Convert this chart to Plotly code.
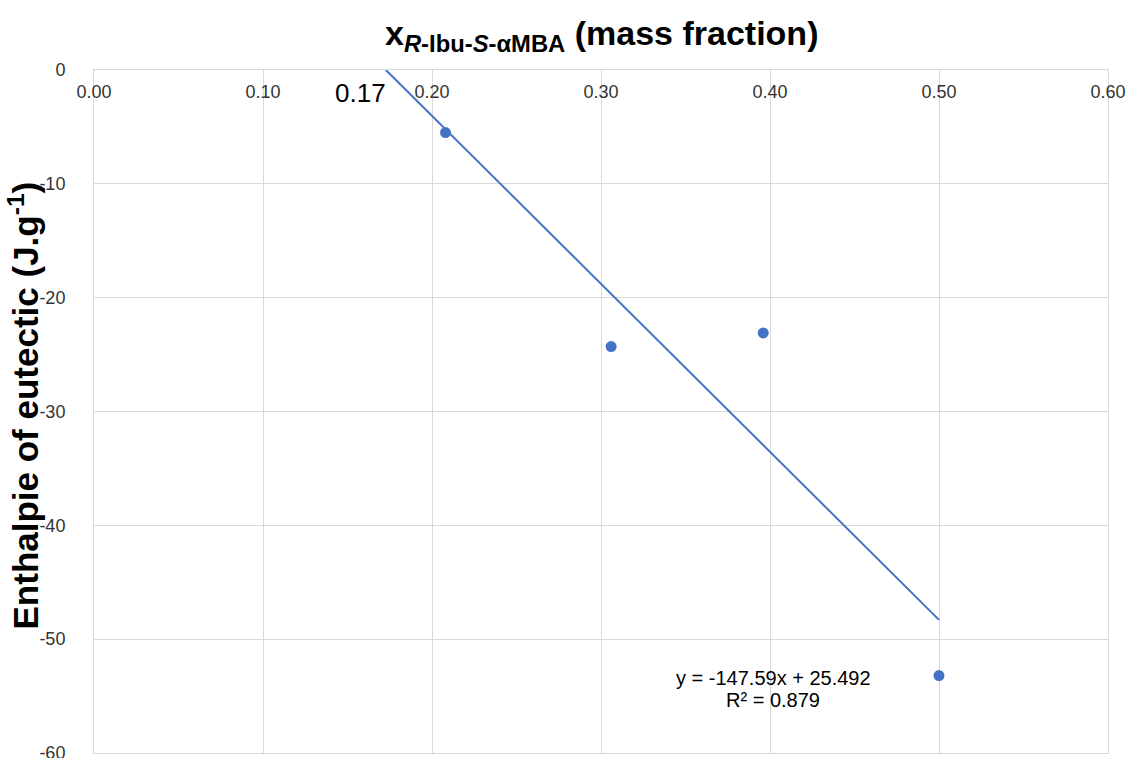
import plotly.graph_objects as go

# Eutectic enthalpy vs. mass fraction of the R-Ibu-S-αMBA salt
mass_fraction = [0.208, 0.306, 0.396, 0.500]
enthalpy = [-5.5, -24.3, -23.1, -53.2]

# Linear trend (as reported): y = slope * x + intercept
slope = -147.59
intercept = 25.492
r_squared = 0.879
x_intercept = -intercept / slope  # ≈ 0.17

trend_x = [x_intercept, max(mass_fraction)]
trend_y = [slope * v + intercept for v in trend_x]

x_ticks = [0.0, 0.1, 0.2, 0.3, 0.4, 0.5, 0.6]
y_ticks = [0, -10, -20, -30, -40, -50, -60]

blue = "#4472C4"
grid = "#d9d9d9"
font_family = "Liberation Sans, Arial, sans-serif"
tick_font = dict(family=font_family, size=18, color="#333333")

W, H = 1129, 758
M_L, M_R, M_T, M_B = 94, 21, 70, 5
plot_w = W - M_L - M_R
plot_h = H - M_T - M_B


def px_to_paper(px, py):
    """Convert page pixel position to paper coordinates."""
    return (px - M_L) / plot_w, (H - M_B - py) / plot_h


fig = go.Figure()
fig.add_trace(go.Scatter(
    x=trend_x, y=trend_y, mode="lines",
    line=dict(color=blue, width=2), hoverinfo="skip", showlegend=False,
))
fig.add_trace(go.Scatter(
    x=mass_fraction, y=enthalpy, mode="markers",
    marker=dict(color=blue, size=11), showlegend=False,
))

eq_x, eq_y1 = px_to_paper(773, 678)
_, eq_y2 = px_to_paper(773, 700)

fig.update_layout(
    width=W, height=H,
    margin=dict(l=M_L, r=M_R, t=M_T, b=M_B, autoexpand=False),
    paper_bgcolor="white", plot_bgcolor="white",
    font=dict(family=font_family, color="#333333", size=18),
    xaxis=dict(
        range=[0, 0.6], tickvals=x_ticks,
        ticktext=[f"{v:.2f}" for v in x_ticks],
        tickfont=tick_font, automargin=False,
        side="top", ticklabelposition="inside", ticklabeloverflow="allow",
        ticklabelstandoff=16,
        showgrid=True, gridcolor=grid, gridwidth=1,
        showline=True, linecolor=grid, linewidth=1, mirror=True,
        zeroline=False, ticks="",
    ),
    yaxis=dict(
        range=[-60, 0], tickvals=y_ticks,
        ticktext=[str(v) for v in y_ticks],
        tickfont=tick_font, automargin=False,
        ticklabeloverflow="allow",
        showgrid=True, gridcolor=grid, gridwidth=1,
        showline=True, linecolor=grid, linewidth=1, mirror=True,
        zeroline=False, ticks="", ticklabelstandoff=24,
    ),
    annotations=[
        dict(
            text="x<sub><i>R</i>-Ibu-<i>S</i>-αMBA</sub> (mass fraction)",
            xref="paper", yref="paper", x=0.5, y=1, yshift=35,
            xanchor="center", yanchor="middle", showarrow=False,
            font=dict(family=font_family, size=34, color="black", weight="bold"),
        ),
        dict(
            text="Enthalpie of eutectic (J.g<sup>-1</sup>)",
            xref="paper", yref="paper", x=0, xshift=-71, y=0.5, yshift=6,
            textangle=-90, xanchor="center", yanchor="middle", showarrow=False,
            font=dict(family=font_family, size=35, color="black", weight="bold"),
        ),
        dict(
            text=f"{x_intercept:.2f}",
            xref="x", yref="y", x=x_intercept, y=0, yshift=-23, xshift=2,
            xanchor="right", yanchor="middle", showarrow=False,
            font=dict(family=font_family, size=26, color="black"),
        ),
        dict(
            text=f"y = {slope}x + {intercept}",
            xref="paper", yref="paper", x=eq_x, y=eq_y1,
            xanchor="center", yanchor="middle", showarrow=False,
            font=dict(family=font_family, size=20, color="black"),
        ),
        dict(
            text=f"R² = {r_squared}",
            xref="paper", yref="paper", x=eq_x, y=eq_y2,
            xanchor="center", yanchor="middle", showarrow=False,
            font=dict(family=font_family, size=20, color="black"),
        ),
    ],
)

fig.write_html("out.html")
